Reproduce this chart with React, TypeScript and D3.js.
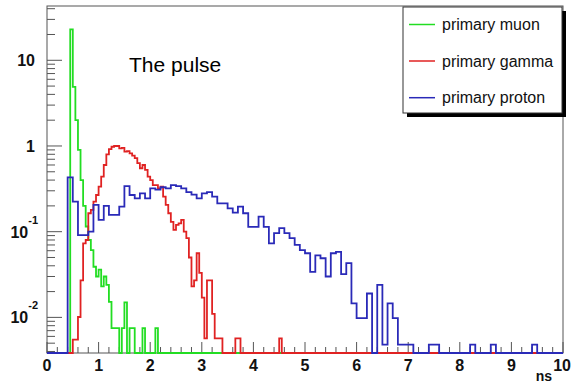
import React from "react";
import * as d3 from "d3";

// Time distribution of the pulse (ns), per primary particle type.
// Each series is a fixed-width histogram; bins outside the listed range are empty.
const muonStart = 0.45;
const muonWidth = 0.05;
const muonValues = [
  23, 4.9, 2.0, 0.9, 0.4, 0.2, 0.115, 0.08, 0.061, 0.039, 0.03, 0.036, 0.023,
  0.03, 0.024, 0.0152, 0.0075, 0.0075, 0.0075, 0, 0.0075, 0.015, 0, 0.0075,
  0.0075, 0, 0, 0, 0.0075, 0, 0, 0, 0, 0.0075,
];

const gammaStart = 0.5;
const gammaWidth = 0.05;
const gammaValues = [
  0.0055, 0.0055, 0.0101, 0.027, 0.073, 0.08, 0.164, 0.18, 0.224, 0.268, 0.335,
  0.44, 0.6, 0.8, 0.92, 0.98, 1.0, 1.0, 0.94, 0.95, 0.86, 0.87, 0.82, 0.77,
  0.72, 0.63, 0.55, 0.6, 0.525, 0.44, 0.4, 0.35, 0.35, 0.32, 0.335, 0.256,
  0.205, 0.164, 0.13, 0.105, 0.12, 0.125, 0.137, 0.1, 0.084, 0.05, 0.023,
  0.027, 0.056, 0.033, 0.017, 0.0057, 0.027, 0.027, 0.011, 0.0057, 0.0057,
  0.0057, 0, 0, 0, 0, 0, 0.0057, 0.0057, 0, 0, 0, 0, 0, 0, 0, 0, 0, 0, 0, 0, 0,
  0, 0, 0.0057,
];

const protonStart = 0.4;
const protonWidth = 0.1;
const protonValues = [
  0.43, 0.224, 0.091, 0.091, 0.1, 0.205, 0.137, 0.2, 0.157, 0.157, 0.196, 0.34,
  0.268, 0.245, 0.28, 0.245, 0.32, 0.31, 0.33, 0.32, 0.35, 0.34, 0.32, 0.29,
  0.27, 0.245, 0.28, 0.29, 0.256, 0.214, 0.214, 0.187, 0.167, 0.196, 0.164,
  0.114, 0.114, 0.15, 0.114, 0.073, 0.096, 0.11, 0.096, 0.084, 0.07, 0.061,
  0.056, 0.034, 0.053, 0.049, 0.03, 0.056, 0.058, 0.032, 0.043, 0.0146, 0.0098,
  0.0098, 0.019, 0, 0.024, 0.0048, 0.0146, 0.0098, 0.0048, 0.0048, 0.0048, 0,
  0, 0, 0.0048, 0.0048, 0, 0, 0, 0, 0, 0, 0.0048, 0, 0, 0, 0.0048, 0, 0, 0, 0,
  0, 0, 0, 0.0048,
];

const seriesNames = ["primary muon", "primary gamma", "primary proton"];
const seriesColors = ["#22dd22", "#e02222", "#2a2ab8"];

const xTicks = [0, 1, 2, 3, 4, 5, 6, 7, 8, 9, 10];
const xMinorStep = 0.2;
const yDecades = [
  { value: 10, base: "10", exp: "" },
  { value: 1, base: "1", exp: "" },
  { value: 0.1, base: "10", exp: "-1" },
  { value: 0.01, base: "10", exp: "-2" },
];
const xTitle = "ns";
const chartTitle = "The pulse";

const W = 571;
const H = 385;
const frame = { left: 47, right: 563, top: 6, bottom: 353 };
const yMin = 0.00384;
const yMax = 43;

const x = d3.scaleLinear().domain([0, 10]).range([frame.left, frame.right]);
const y = d3.scaleLog().domain([yMin, yMax]).range([frame.bottom, frame.top]);

function histPath(start: number, width: number, values: number[]): string {
  const n = Math.round(10 / width);
  const valueAt = (i: number) => {
    const j = Math.round((i * width - start) / width);
    const v = j >= 0 && j < values.length ? values[j] : 0;
    return y(Math.max(v, yMin));
  };
  let d = `M${x(0)},${valueAt(0)}`;
  for (let i = 0; i < n; i++) {
    d += `H${x((i + 1) * width)}`;
    if (i + 1 < n) d += `V${valueAt(i + 1)}`;
  }
  return d;
}

export default function App() {
  const paths = [
    histPath(muonStart, muonWidth, muonValues),
    histPath(gammaStart, gammaWidth, gammaValues),
    histPath(protonStart, protonWidth, protonValues),
  ];

  const minorX: number[] = [];
  for (let v = 0; v <= 10 + 1e-9; v += xMinorStep) {
    const r = Math.round(v * 10) / 10;
    if (Math.abs(r - Math.round(r)) > 1e-6) minorX.push(r);
  }

  const minorY: number[] = [];
  for (let e = -3; e <= 1; e++) {
    for (let m = 2; m <= 9; m++) {
      const v = m * Math.pow(10, e);
      if (v >= yMin && v <= yMax) minorY.push(v);
    }
  }

  const axisColor = "#555";
  const font = "'Liberation Sans', Arial, Helvetica, sans-serif";

  const legendX = 403;
  const legendY = 7;
  const legendW = 159;
  const legendH = 106;
  const legendRows = [24.5, 61, 97.7];

  return (
    <svg
      width={W}
      height={H}
      style={{ position: "absolute", left: 0, top: 0, background: "#fff" }}
      fontFamily={font}
    >
      <defs>
        <clipPath id="plotClip">
          <rect x={frame.left} y={frame.top} width={frame.right - frame.left + 1} height={frame.bottom - frame.top + 1.5} />
        </clipPath>
      </defs>
      <rect x={0} y={0} width={W} height={H} fill="#fff" />

      {/* frame */}
      <rect
        x={frame.left}
        y={frame.top}
        width={frame.right - frame.left}
        height={frame.bottom - frame.top}
        fill="none"
        stroke={axisColor}
        strokeWidth={1}
      />

      {/* x axis ticks */}
      {xTicks.map((t) => (
        <line key={"xt" + t} x1={x(t)} x2={x(t)} y1={frame.bottom} y2={frame.bottom - 11} stroke={axisColor} />
      ))}
      {minorX.map((t) => (
        <line key={"xm" + t} x1={x(t)} x2={x(t)} y1={frame.bottom} y2={frame.bottom - 6} stroke={axisColor} />
      ))}

      {/* y axis ticks */}
      {yDecades.map((d) => (
        <line key={"yt" + d.value} x1={frame.left} x2={frame.left + 15} y1={y(d.value)} y2={y(d.value)} stroke={axisColor} />
      ))}
      {minorY.map((v) => (
        <line key={"ym" + v} x1={frame.left} x2={frame.left + 8} y1={y(v)} y2={y(v)} stroke={axisColor} />
      ))}

      {/* histograms */}
      <g clipPath="url(#plotClip)" fill="none" strokeWidth={1.8}>
        {paths.map((d, i) => (
          <path key={i} d={d} stroke={seriesColors[i]} />
        ))}
      </g>

      {/* x labels; the last one is kept inside the page edge */}
      {xTicks.map((t, i) => (
        <text
          key={"xl" + t}
          x={i === xTicks.length - 1 ? W : x(t)}
          y={371}
          textAnchor={i === xTicks.length - 1 ? "end" : "middle"}
          fontSize={16}
          fontWeight="bold"
          fill="#111"
        >
          {t}
        </text>
      ))}
      <text x={552} y={381} textAnchor="end" fontSize={14} fontWeight="bold" fill="#111">
        {xTitle}
      </text>

      {/* y labels */}
      {yDecades.map((d) =>
        d.exp ? (
          <text key={"yl" + d.value} x={38} y={y(d.value) + 6} textAnchor="end" fontSize={16} fontWeight="bold" fill="#111">
            {d.base}
            <tspan fontSize={11} dy={-14}>
              {d.exp}
            </tspan>
          </text>
        ) : (
          <text key={"yl" + d.value} x={35} y={y(d.value) + 6} textAnchor="end" fontSize={16} fontWeight="bold" fill="#111">
            {d.base}
          </text>
        )
      )}

      {/* title */}
      <text x={129} y={72} fontSize={21} fill="#000">
        {chartTitle}
      </text>

      {/* legend */}
      <rect x={legendX + 4} y={legendY + 4} width={legendW} height={legendH} fill="#000" />
      <rect x={legendX} y={legendY} width={legendW} height={legendH} fill="#fff" stroke="#333" strokeWidth={1} />
      {seriesNames.map((name, i) => (
        <g key={name}>
          <line x1={409} x2={435} y1={legendY + legendRows[i] - 7} y2={legendY + legendRows[i] - 7} stroke={seriesColors[i]} strokeWidth={1.5} />
          <text x={442} y={legendY + legendRows[i] - 7 + 5.5} fontSize={16} fill="#111">
            {name}
          </text>
        </g>
      ))}
    </svg>
  );
}
